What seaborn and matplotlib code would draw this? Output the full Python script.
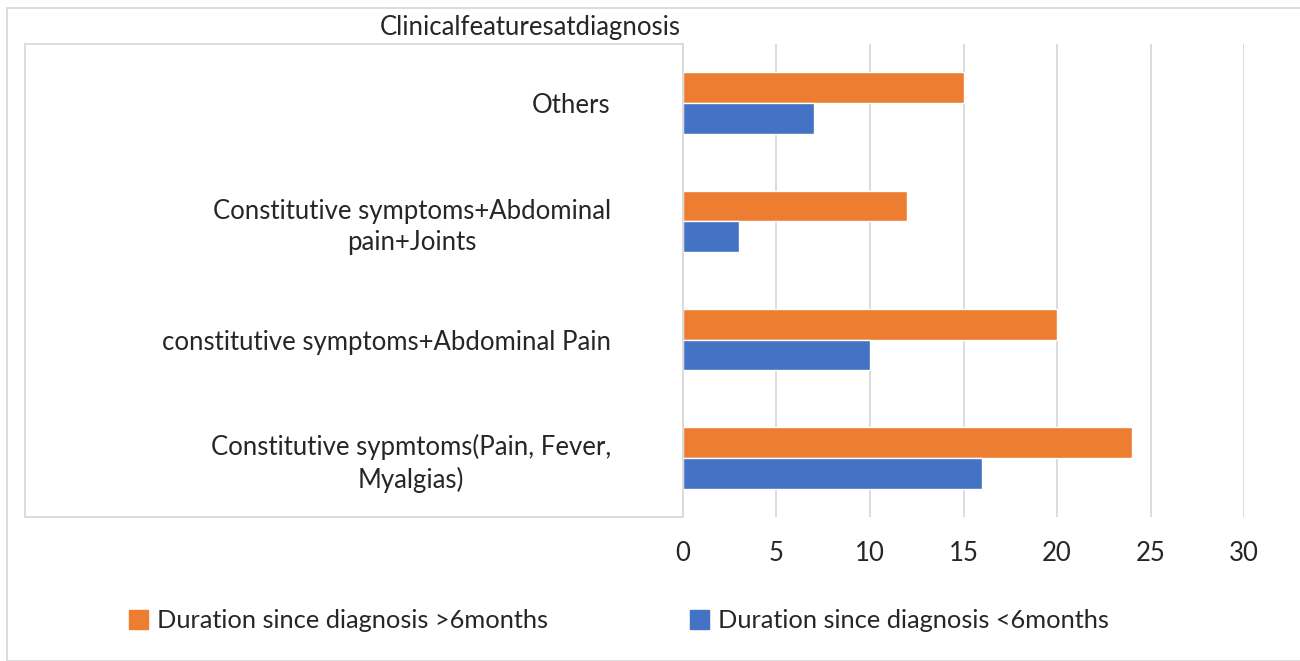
import pandas as pd
import matplotlib.pyplot as plt
import seaborn as sns
from matplotlib.lines import Line2D
from matplotlib.patches import Rectangle, Patch

# Dữ liệu
features = [
    'Others',
    'Constitutive symptoms+Abdominal\npain+Joints',
    'constitutive symptoms+Abdominal Pain',
    'Constitutive sypmtoms(Pain, Fever,\nMyalgias)',
]
over_6m = [15, 12, 20, 24]
under_6m = [7, 3, 10, 16]
series_names = ['Duration since diagnosis >6months', 'Duration since diagnosis <6months']
x_ticks = [0, 5, 10, 15, 20, 25, 30]

ORANGE = '#ED7D31'
BLUE = '#4472C4'
GRID = '#D9D9D9'
TEXT = '#262626'

sns.set_theme(style="white")
plt.rcParams['font.family'] = ['Lato', 'DejaVu Sans']


def main():
    df = pd.DataFrame({
        'feature': features * 2,
        'count': over_6m + under_6m,
        'duration': [series_names[0]] * len(features) + [series_names[1]] * len(features),
    })

    W, H = 1300, 661
    fig = plt.figure(figsize=(13, 6.61), dpi=100)
    ax = fig.add_axes([683 / W, 1 - 517 / H, (1244 - 683) / W, (517 - 44) / H])

    sns.barplot(data=df, y='feature', x='count', hue='duration', hue_order=series_names,
                order=features, palette=[ORANGE, BLUE], width=0.52, orient='h',
                saturation=1, ax=ax, legend=False)

    ax.set_xlim(0, 30)
    ax.set_xticks(x_ticks)
    ax.set_xticklabels([str(t) for t in x_ticks])
    ax.grid(axis='x', color=GRID, lw=1.3)
    ax.set_axisbelow(True)
    for s in ['top', 'right', 'bottom']:
        ax.spines[s].set_visible(False)
    ax.spines['left'].set_color(GRID)
    ax.spines['left'].set_linewidth(1.3)
    ax.set_xlabel('')
    ax.set_ylabel('')
    ax.tick_params(axis='x', length=0, pad=17, labelsize=18.5, labelcolor=TEXT)
    ax.tick_params(axis='y', length=0, pad=52, labelsize=18.5, labelcolor=TEXT)
    for lab in ax.get_yticklabels():
        lab.set_multialignment('center')
        lab.set_linespacing(1.3)

    # Khung vùng nhãn và viền ngoài
    yt, yb = 1 - 44 / H, 1 - 517 / H
    xl, xr = 25 / W, 683 / W
    for xs, ys in [([xl, xr], [yt, yt]), ([xl, xr], [yb, yb]), ([xl, xl], [yt, yb])]:
        fig.add_artist(Line2D(xs, ys, color=GRID, lw=1.3))
    fig.add_artist(Rectangle((7 / W, 0), 1.0, 1 - 8 / H, fill=False, ec=GRID, lw=1.3,
                             transform=fig.transFigure))

    fig.text(530 / W, 1 - 27 / H, 'Clinicalfeaturesatdiagnosis', ha='center', va='center',
             fontsize=18.5, color=TEXT)

    handles = [Patch(color=ORANGE), Patch(color=BLUE)]
    fig.legend(handles, series_names, loc='center left', bbox_to_anchor=(106 / W, 1 - 621 / H),
               ncol=2, frameon=False, fontsize=18.3, handlelength=0.75, handleheight=0.75,
               handletextpad=0.35, columnspacing=5.6, labelcolor=TEXT)

    fig.savefig('out.png', dpi=100)


if __name__ == '__main__':
    main()
